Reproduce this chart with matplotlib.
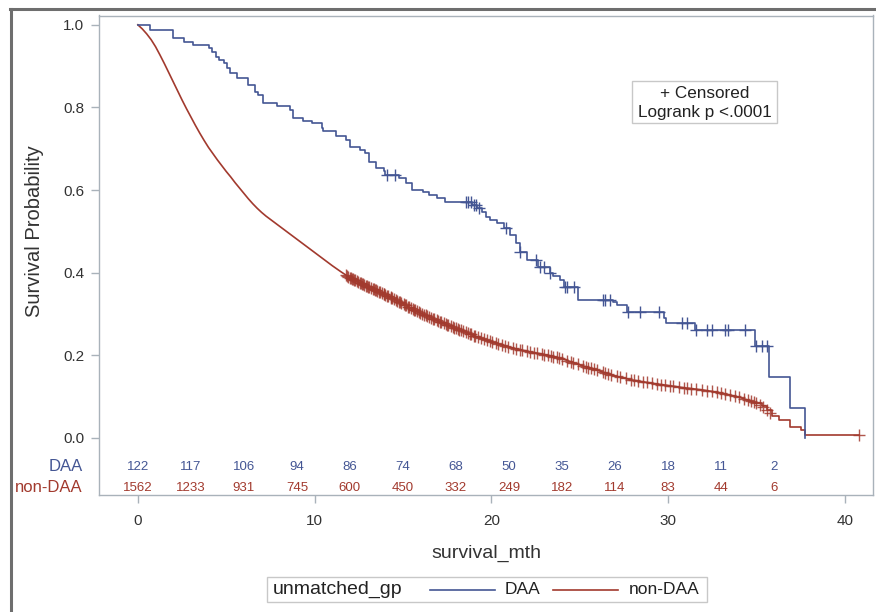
import numpy as np
import matplotlib
matplotlib.use("Agg")
import matplotlib.pyplot as plt
from matplotlib.lines import Line2D
from matplotlib.patches import Rectangle
import matplotlib.transforms as mtrans

plt.rcParams['font.family'] = ['Liberation Sans', 'DejaVu Sans']

BLUE = '#445694'
RED = '#A23A2E'
SPINE = '#A9B2BA'

# ---------------- data ----------------
daa_t = [0.0, 0.7, 2.0, 2.6, 3.1, 4.0, 4.2, 4.4, 4.6, 4.85, 5.05, 5.2, 5.6, 6.25,
         6.6, 6.8, 7.1, 7.9, 8.6, 8.8, 9.35, 9.85, 10.4, 10.5, 11.2, 11.8, 12.0,
         12.55, 12.85, 13.1, 13.5, 13.9, 14.0, 14.8, 15.2, 15.5, 16.15, 16.5, 16.9,
         17.4, 18.9, 19.2, 19.45, 19.7, 19.9, 20.3, 20.7, 21.05, 21.4, 21.6, 22.0,
         22.65, 23.3, 23.5, 23.9, 24.1, 24.9, 26.9, 27.1, 27.7, 29.75, 29.9, 31.5,
         34.9, 35.7, 36.9, 37.75]
daa_s = [1.000, 0.988, 0.967, 0.959, 0.951, 0.943, 0.935, 0.923, 0.915, 0.907,
         0.895, 0.883, 0.871, 0.855, 0.838, 0.830, 0.810, 0.803, 0.794, 0.774,
         0.766, 0.762, 0.750, 0.742, 0.730, 0.720, 0.705, 0.697, 0.689, 0.669,
         0.653, 0.645, 0.637, 0.629, 0.617, 0.600, 0.596, 0.588, 0.580, 0.572,
         0.564, 0.556, 0.548, 0.536, 0.528, 0.520, 0.508, 0.492, 0.471, 0.451,
         0.431, 0.415, 0.399, 0.391, 0.383, 0.366, 0.334, 0.330, 0.322, 0.306,
         0.290, 0.278, 0.261, 0.222, 0.148, 0.072, 0.000]
daa_cens = [14.07, 14.55, 18.55, 18.7, 18.85, 19.0, 19.15, 19.3, 20.85, 21.65,
            22.55, 22.75, 23.0, 23.3, 24.15, 24.3, 24.7, 26.3, 26.45, 26.7, 27.75,
            28.4, 29.5, 30.8, 31.05, 31.6, 32.2, 32.5, 33.2, 33.4, 34.35, 35.0,
            35.3, 35.6]

non_t = [0.0, 0.25, 0.5, 0.75, 1.0, 1.25, 1.5, 1.75, 2.0, 2.25, 2.5, 2.75, 3.0,
         3.25, 3.5, 3.75, 4.0, 4.25, 4.5, 4.75, 5.0, 5.25, 5.5, 5.75, 6.0, 6.25,
         6.5, 6.75, 7.0, 7.25, 7.5, 7.75, 8.0, 8.5, 9.0, 9.5, 10.0, 10.5, 11.0,
         11.5, 12.0, 12.5, 13.0, 13.5, 14.0, 14.5, 15.0, 15.5, 16.0, 16.5, 17.0,
         17.5, 18.0, 18.5, 19.0, 19.5, 20.0, 21.0, 22.0, 23.0, 24.0, 25.0, 26.0,
         27.0, 28.0, 29.0, 30.0, 31.0, 32.0, 33.0, 33.5, 34.0, 34.5, 35.0, 35.3,
         35.6, 35.9, 36.3, 36.9, 37.5, 37.75, 40.8]
non_s = [1.000, 0.990, 0.978, 0.964, 0.947, 0.927, 0.906, 0.884, 0.862, 0.840,
         0.818, 0.797, 0.777, 0.757, 0.738, 0.720, 0.703, 0.688, 0.673, 0.659,
         0.645, 0.632, 0.618, 0.605, 0.592, 0.579, 0.567, 0.556, 0.546, 0.537,
         0.529, 0.521, 0.513, 0.497, 0.481, 0.465, 0.449, 0.433, 0.417, 0.402,
         0.388, 0.377, 0.367, 0.357, 0.347, 0.336, 0.325, 0.313, 0.302, 0.293,
         0.283, 0.274, 0.265, 0.257, 0.248, 0.240, 0.233, 0.220, 0.210, 0.202,
         0.192, 0.177, 0.164, 0.150, 0.140, 0.133, 0.127, 0.121, 0.116, 0.109,
         0.104, 0.099, 0.092, 0.084, 0.077, 0.068, 0.052, 0.044, 0.027, 0.019,
         0.007, 0.007]
non_cens = [11.75, 11.85, 11.9, 12.0, 12.05, 12.1, 12.2, 12.25, 12.3, 12.4, 12.45,
            12.55, 12.6, 12.7, 12.75, 12.8, 12.9, 12.95, 13.05, 13.1, 13.2, 13.3,
            13.35, 13.4, 13.5, 13.55, 13.65, 13.7, 13.8, 13.9, 13.95, 14.0, 14.1,
            14.15, 14.3, 14.35, 14.4, 14.5, 14.6, 14.65, 14.8, 14.85, 14.9, 15.05,
            15.1, 15.15, 15.3, 15.35, 15.45, 15.55, 15.6, 15.7, 15.8, 15.9, 15.95,
            16.1, 16.2, 16.3, 16.35, 16.5, 16.6, 16.7, 16.75, 16.9, 17.0, 17.1,
            17.15, 17.3, 17.45, 17.5, 17.55, 17.7, 17.85, 17.9, 18.0, 18.1, 18.2,
            18.3, 18.4, 18.55, 18.7, 18.8, 18.85, 19.0, 19.1, 19.25, 19.4, 19.6,
            19.75, 19.9, 20.05, 20.25, 20.4, 20.6, 20.8, 20.95, 21.2, 21.4, 21.6,
            21.75, 22.0, 22.2, 22.4, 22.6, 22.85, 23.0, 23.2, 23.35, 23.5, 23.7,
            23.85, 24.0, 24.3, 24.5, 24.65, 24.9, 25.2, 25.35, 25.5, 25.65, 25.8,
            26.0, 26.3, 26.45, 26.6, 26.8, 27.1, 27.3, 27.6, 27.9, 28.1, 28.3,
            28.6, 28.8, 29.1, 29.4, 29.6, 29.85, 30.1, 30.3, 30.6, 30.9, 31.1,
            31.3, 31.6, 31.9, 32.2, 32.5, 32.8, 33.0, 33.2, 33.5, 33.8, 34.0,
            34.3, 34.5, 34.7, 34.85, 35.0, 35.2, 35.4, 35.6, 35.75, 40.8]

risk_times = [0, 3, 6, 9, 12, 15, 18, 21, 24, 27, 30, 33, 36]
risk_daa = [122, 117, 106, 94, 86, 74, 68, 50, 35, 26, 18, 11, 2]
risk_non = [1562, 1233, 931, 745, 600, 450, 332, 249, 182, 114, 83, 44, 6]

groups = ['DAA', 'non-DAA']
x_ticks = [0, 10, 20, 30, 40]
y_ticks = [0.0, 0.2, 0.4, 0.6, 0.8, 1.0]


def step_value(t, s, c):
    t = np.asarray(t)
    s = np.asarray(s)
    idx = np.searchsorted(t, np.asarray(c), side='right') - 1
    return s[idx]


W, H = 876, 612
fig = plt.figure(figsize=(W / 100, H / 100), dpi=100)

# axes placement (pixels)
L, R, T, B = 99, 873, 15.5, 495
ax = fig.add_axes([L / W, 1 - B / H, (R - L) / W, (B - T) / H])
ax.set_xlim(-2.2, 41.6)
ax.set_ylim(-0.138, 1.0225)

ax.step(daa_t, daa_s, where='post', color=BLUE, lw=1.2, zorder=3)
# the large group's many small steps look like a smooth curve; its tail is stepped
k = non_t.index(35.0)
ax.plot(non_t[:k + 1], non_s[:k + 1], color=RED, lw=1.2, zorder=2)
ax.step(non_t[k:], non_s[k:], where='post', color=RED, lw=1.2, zorder=2)
ax.plot(daa_cens, step_value(daa_t, daa_s, daa_cens), ls='none', marker='+',
        ms=9, mew=1.0, color=BLUE, zorder=4)
ax.plot(non_cens, np.interp(non_cens, non_t, non_s), ls='none', marker='+',
        ms=9, mew=1.0, color=RED, alpha=0.85, zorder=2)

for sp in ax.spines.values():
    sp.set_color(SPINE)
    sp.set_linewidth(1.0)

ax.set_xticks(x_ticks)
ax.set_xticklabels([str(v) for v in x_ticks])
ax.set_yticks(y_ticks)
ax.set_yticklabels([f'{v:.1f}' for v in y_ticks])
ax.tick_params(axis='both', direction='out', length=5.5, width=1.0, color=SPINE,
               labelsize=11, labelcolor='#333333')
ax.tick_params(axis='y', pad=5)
ax.tick_params(axis='x', pad=8)

ax.set_xlabel('survival_mth', fontsize=14, color='#333333')
ax.xaxis.set_label_coords(0.501, -0.104)
ax.set_ylabel('Survival Probability', fontsize=14.5, color='#333333')
ax.yaxis.set_label_coords(-0.071, 0.5506)

# at-risk table
row_y = [-0.0695, -0.1205]
for t, n1, n2 in zip(risk_times, risk_daa, risk_non):
    ax.text(t, row_y[0], str(n1), ha='center', va='center', fontsize=9.5, color=BLUE)
    ax.text(t, row_y[1], str(n2), ha='center', va='center', fontsize=9.5, color=RED)
blend = mtrans.blended_transform_factory(ax.transAxes, ax.transData)
ax.text(-0.0207, row_y[0], groups[0], ha='right', va='center', fontsize=12,
        color=BLUE, transform=blend)
ax.text(-0.0207, row_y[1], groups[1], ha='right', va='center', fontsize=12,
        color=RED, transform=blend)

# inset box
fig.patches.append(Rectangle((632 / W, 1 - 123 / H), (777 - 632) / W, (123 - 81) / H,
                             transform=fig.transFigure, fill=False, ec='#C8C8C8', lw=1.0))
fig.text(704.5 / W, 1 - 93 / H, '+ Censored', ha='center', va='center', fontsize=12.3,
         color='#222222')
fig.text(704.5 / W, 1 - 112 / H, 'Logrank p <.0001', ha='center', va='center',
         fontsize=12.3, color='#222222')

# bottom legend
fig.patches.append(Rectangle((267 / W, 1 - 602 / H), (707 - 267) / W, (602 - 577) / H,
                             transform=fig.transFigure, fill=False, ec='#C8C8C8', lw=1.0))
ly = 1 - 589.5 / H
fig.text(273 / W, ly, 'unmatched_gp', ha='left', va='center', fontsize=14, color='#222222')
fig.lines.append(Line2D([430 / W, 495 / W], [ly, ly], transform=fig.transFigure,
                        color=BLUE, lw=1.2))
fig.text(505 / W, ly, groups[0], ha='left', va='center', fontsize=12.5, color='#222222')
fig.lines.append(Line2D([553 / W, 618 / W], [ly, ly], transform=fig.transFigure,
                        color=RED, lw=1.2))
fig.text(629 / W, ly, groups[1], ha='left', va='center', fontsize=12.5, color='#222222')

# outer frame (left and top edges)
fig.lines.append(Line2D([11 / W, 11 / W], [0, 1 - 8.5 / H], transform=fig.transFigure,
                        color='#6E6E6E', lw=2.2))
fig.lines.append(Line2D([10 / W, 1], [1 - 8.5 / H, 1 - 8.5 / H], transform=fig.transFigure,
                        color='#6E6E6E', lw=2.2))

fig.savefig('out.png', dpi=100)
